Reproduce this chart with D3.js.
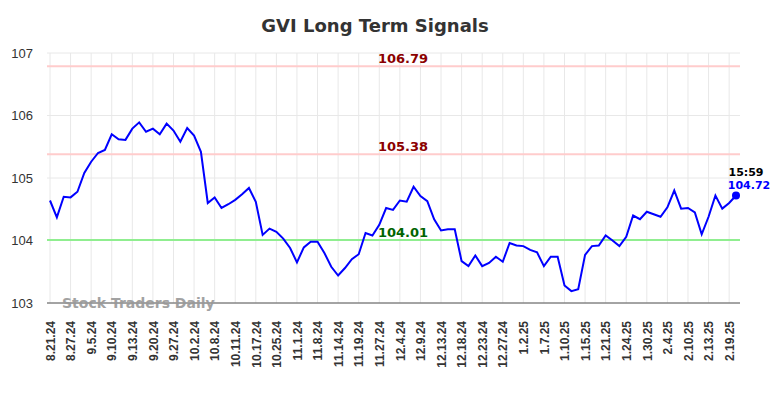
<!DOCTYPE html>
<html lang="en">
<head>
<meta charset="UTF-8">
<title>GVI Long Term Signals</title>
<style>
  body { margin: 0; background: #fff; }
  svg { font-family: "DejaVu Sans", sans-serif; }
  .grid line { stroke: #e8e8e8; stroke-width: 1; }
  .yaxis text { font-size: 13px; fill: #333; }
  .xaxis text { font-size: 12px; font-weight: bold; fill: #333; }
</style>
</head>
<body>
<div id="chart"></div>
<script src="https://d3js.org/d3.v7.min.js"></script>
<script>
// every 3rd point has a date label
var dates = ["8.21.24","8.27.24","9.5.24","9.10.24","9.13.24","9.20.24","9.27.24","10.2.24","10.8.24","10.11.24",
  "10.17.24","10.25.24","11.1.24","11.8.24","11.14.24","11.19.24","11.27.24","12.4.24","12.9.24","12.13.24",
  "12.18.24","12.23.24","12.27.24","1.2.25","1.7.25","1.10.25","1.15.25","1.21.25","1.24.25","1.30.25",
  "2.4.25","2.10.25","2.13.25","2.19.25"];

var prices = [104.64,104.37,104.70,104.69,104.78,105.08,105.26,105.40,105.45,105.70,
  105.62,105.61,105.79,105.89,105.74,105.79,105.70,105.87,105.76,105.58,
  105.80,105.68,105.42,104.60,104.69,104.52,104.58,104.65,104.74,104.84,
  104.62,104.09,104.19,104.14,104.03,103.88,103.65,103.89,103.98,103.98,
  103.80,103.58,103.44,103.56,103.70,103.78,104.12,104.08,104.25,104.52,
  104.49,104.64,104.62,104.86,104.71,104.63,104.34,104.16,104.18,104.18,
  103.67,103.59,103.76,103.59,103.64,103.74,103.66,103.96,103.92,103.91,
  103.85,103.81,103.59,103.74,103.74,103.28,103.19,103.22,103.77,103.91,
  103.92,104.08,104.00,103.91,104.06,104.40,104.34,104.46,104.42,104.38,
  104.53,104.80,104.51,104.52,104.45,104.10,104.38,104.72,104.51,104.60,
  104.72];

var signals = [
  {value: 106.79, line: "#ffcccc", text: "#8b0000"},
  {value: 105.38, line: "#ffcccc", text: "#8b0000"},
  {value: 104.01, line: "#90ee90", text: "#006400"}
];
var yTicks = [103, 104, 105, 106, 107];
var lastTime = "15:59";

var W = 784, H = 398;
var plotL = 47, plotR = 740, plotT = 53, plotB = 303;

var svg = d3.select("#chart").append("svg")
  .attr("width", W).attr("height", H);

var x = d3.scaleLinear().domain([0, prices.length - 1]).range([50, 736]);
var y = d3.scaleLinear().domain([103, 107]).range([plotB, plotT]);

// title
svg.append("text")
  .attr("x", 375).attr("y", 32)
  .attr("text-anchor", "middle")
  .style("font-size", "18px").style("font-weight", "bold").style("fill", "#333")
  .text("GVI Long Term Signals");

// grid
var grid = svg.append("g").attr("class", "grid");
grid.selectAll(".h").data(yTicks).enter().append("line")
  .attr("x1", plotL).attr("x2", plotR)
  .attr("y1", d => y(d)).attr("y2", d => y(d));
grid.selectAll(".v").data(dates).enter().append("line")
  .attr("x1", (d, i) => x(i * 3)).attr("x2", (d, i) => x(i * 3))
  .attr("y1", plotT).attr("y2", plotB);

// y axis
var yAxis = d3.axisLeft(y).tickValues(yTicks).tickSize(0).tickPadding(14).tickFormat(d3.format("d"));
svg.append("g").attr("class", "yaxis")
  .attr("transform", `translate(${plotL},0)`)
  .call(yAxis)
  .call(g => g.select(".domain").remove());

// x axis
var xAxis = d3.axisBottom(x)
  .tickValues(dates.map((d, i) => i * 3))
  .tickFormat((d) => dates[d / 3])
  .tickSize(0);
var xg = svg.append("g").attr("class", "xaxis")
  .attr("transform", `translate(0,${plotB})`)
  .call(xAxis);
xg.select(".domain").remove();
xg.selectAll("text")
  .attr("transform", "rotate(-90)")
  .attr("text-anchor", "end")
  .attr("x", -18).attr("y", 0).attr("dy", "0.35em");

svg.append("line")
  .attr("x1", plotL).attr("x2", plotR)
  .attr("y1", plotB).attr("y2", plotB)
  .attr("stroke", "#555").attr("stroke-width", 1.2);

// watermark
svg.append("text")
  .attr("x", 62).attr("y", 308)
  .style("font-size", "14px").style("font-weight", "bold").style("fill", "#999")
  .style("opacity", 0.9)
  .text("Stock Traders Daily");

// signal lines
signals.forEach(function(s) {
  svg.append("line")
    .attr("x1", plotL).attr("x2", plotR)
    .attr("y1", y(s.value)).attr("y2", y(s.value))
    .attr("stroke", s.line).attr("stroke-width", 2);
  svg.append("text")
    .attr("x", 403).attr("y", y(s.value) - 3)
    .attr("text-anchor", "middle")
    .style("font-size", "13px").style("font-weight", "bold").style("fill", s.text)
    .text(s.value.toFixed(2));
});

// price line
var line = d3.line().x((d, i) => x(i)).y(d => y(d));
svg.append("path")
  .datum(prices)
  .attr("fill", "none")
  .attr("stroke", "#0000ff")
  .attr("stroke-width", 2)
  .attr("d", line);

var n = prices.length - 1;
svg.append("circle")
  .attr("cx", x(n)).attr("cy", y(prices[n])).attr("r", 4)
  .attr("fill", "#0000ff");

svg.append("text")
  .attr("x", x(n) + 10).attr("y", y(prices[n]) - 20)
  .attr("text-anchor", "middle")
  .style("font-size", "11px").style("font-weight", "bold").style("fill", "#000")
  .text(lastTime);
svg.append("text")
  .attr("x", x(n) + 13).attr("y", y(prices[n]) - 7)
  .attr("text-anchor", "middle")
  .style("font-size", "11px").style("font-weight", "bold").style("fill", "#0000ff")
  .text(prices[n].toFixed(2));
</script>
</body>
</html>
